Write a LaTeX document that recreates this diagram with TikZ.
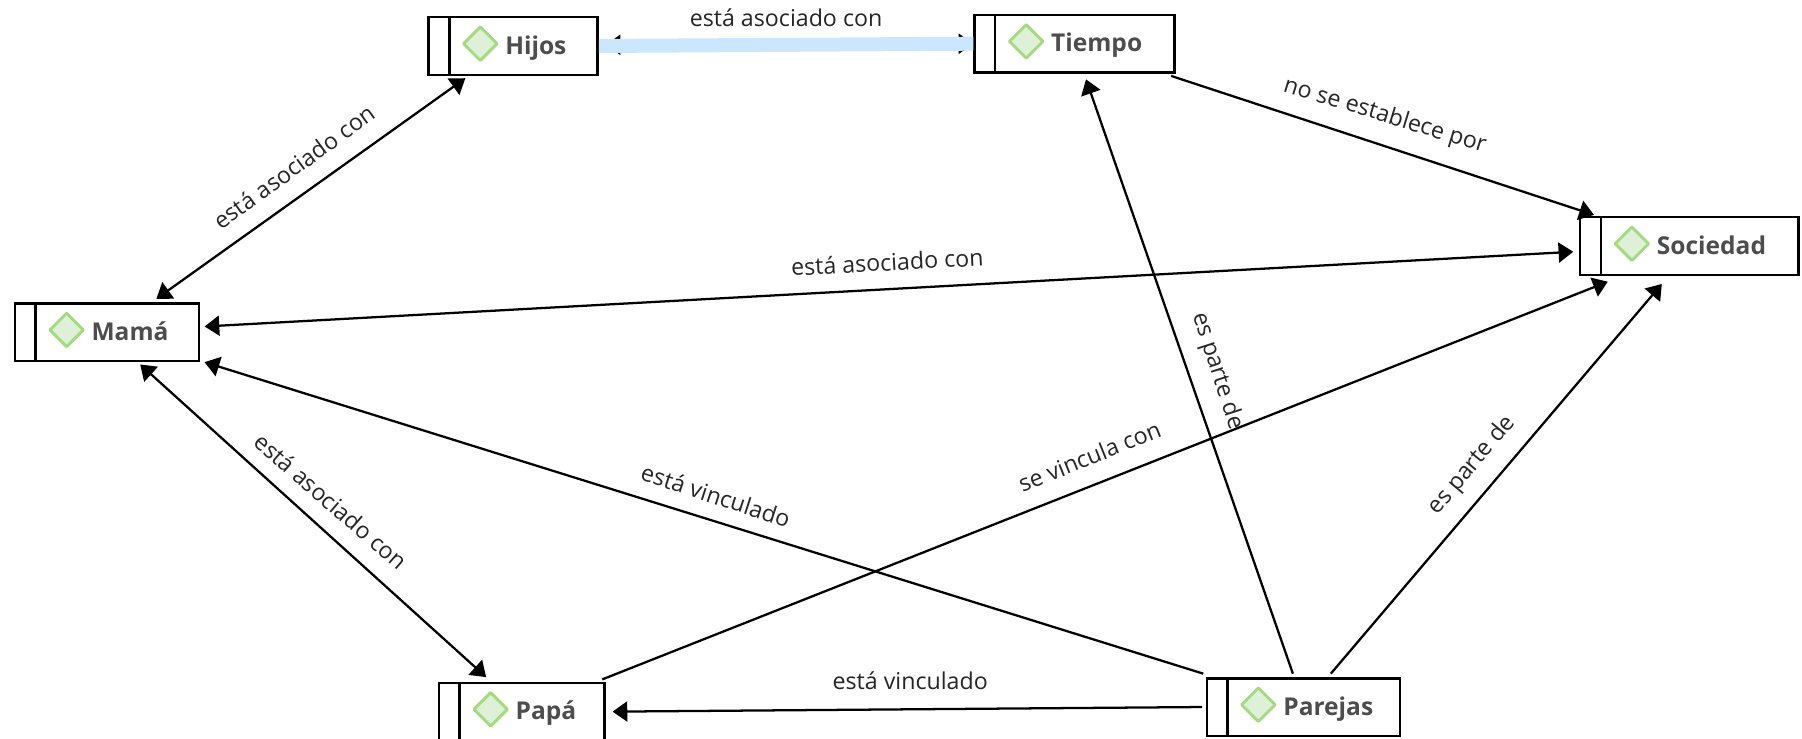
\documentclass[tikz,border=0pt]{standalone}
\usepackage{fontspec}
\setmainfont{Open Sans}
\usetikzlibrary{calc,arrows.meta,shapes.geometric}
\definecolor{boxtext}{HTML}{4D4D4D}
\definecolor{gemfill}{HTML}{DFF0D8}
\definecolor{gemline}{HTML}{A5D982}
\definecolor{linkblue}{HTML}{CCE6FF}
\def\unitpt{0.8619}
\tikzset{
  conn/.style={draw=black,line width=1.7pt,-{Triangle[length=11pt,width=15pt]}},
  connboth/.style={draw=black,line width=1.7pt,{Triangle[length=11pt,width=15pt]}-{Triangle[length=11pt,width=15pt]}},
  boxnode/.style={draw=black,line width=1.8pt,fill=white,rectangle,inner sep=0pt},
  gem/.style={diamond,aspect=1,fill=gemfill,draw=gemline,line width=2.2pt,line join=round,minimum width=26pt,minimum height=26pt,inner sep=0pt},
  boxlabel/.style={text=boxtext,font=\fontsize{18.4}{21}\selectfont\bfseries,anchor=base west,inner sep=0pt},
  rellabel/.style={text=black!85,font=\fontsize{17.4}{20}\selectfont,inner sep=0pt},
  blueline/.style={draw=linkblue,line width=10.5pt}
}
\newcommand{\actbox}[6]{%
  \pgfmathsetmacro{\bw}{(#4-#2)*\unitpt}%
  \pgfmathsetmacro{\bh}{(#5-#3)*\unitpt}%
  \node[boxnode,minimum width=\bw pt,minimum height=\bh pt] (#1) at ({(#2+#4)/2},{(#3+#5)/2}) {};
  \draw[line width=1.8pt] ($(#1.north west)+(19,0)$) -- ($(#1.south west)+(19,0)$);
  \node[gem] (#1gem) at ($(#1.west)+(46,-2)$) {};
  \node[boxlabel] (#1txt) at ($(#1.west)+(67.5,7)$) {#6};
}
\begin{document}
\begin{tikzpicture}[x=0.8619pt,y=-0.8622pt]
\clip (0,0) rectangle (1568,642);
\fill[white] (0,0) rectangle (1568,642);
\actbox{hijos}{373}{15}{520}{65}{Hijos}
\actbox{tiempo}{848}{13}{1022}{63}{Tiempo}
\actbox{sociedad}{1375}{189}{1565}{239}{Sociedad}
\actbox{mama}{13}{264}{173}{314}{Mamá}
\actbox{papa}{382}{594}{526}{644}{Papá}
\actbox{parejas}{1050}{590}{1218}{640}{Parejas}

\draw[connboth] ($(hijos.south west)+(33,2)$) -- ($(mama.north east)+(-38,-3)$);
\draw[connboth] ($(hijos.east)+(6,-1)$) -- ($(tiempo.west)+(0,0)$);
\draw[blueline] (hijos.east) -- (tiempo.west);
\draw[conn] ($(tiempo.south east)+(-4,2)$) -- ($(sociedad.north west)+(13,-1)$);
\draw[connboth] ($(sociedad.west)+(-5,5)$) -- ($(mama.east)+(4,-5)$);
\draw[conn] ($(parejas.north)+(-9,-3)$) -- ($(tiempo.south)+(10,5)$);
\draw[conn] ($(parejas.north)+(24,-3)$) -- ($(sociedad.south)+(-24,7)$);
\draw[conn] ($(papa.north east)+(-3,-2)$) -- ($(sociedad.south west)+(25,5)$);
\draw[conn] ($(parejas.north west)+(-2,-3)$) -- ($(mama.south east)+(4,0)$);
\draw[conn] ($(parejas.west)+(-3,0)$) -- ($(papa.east)+(6,0)$);
\draw[connboth] ($(mama.south)+(29,2)$) -- ($(papa.north)+(-31,-4)$);

\node[rellabel,rotate=36] (l1) at (256,145) {está asociado con};
\node[rellabel] (l2) at (684,15) {está asociado con};
\node[rellabel,rotate=-17] (l3) at (1205,101) {no se establece por};
\node[rellabel,rotate=3] (l4) at (772,228) {está asociado con};
\node[rellabel,rotate=-72] (l5) at (1059,323) {es parte de};
\node[rellabel,rotate=50] (l6) at (1281,405) {es parte de};
\node[rellabel,rotate=22] (l7) at (948,397) {se vincula con};
\node[rellabel,rotate=-18] (l8) at (623,431) {está vinculado};
\node[rellabel] (l9) at (792,592) {está vinculado};
\node[rellabel,rotate=-41] (l10) at (288,436) {está asociado con};
\end{tikzpicture}
\end{document}
